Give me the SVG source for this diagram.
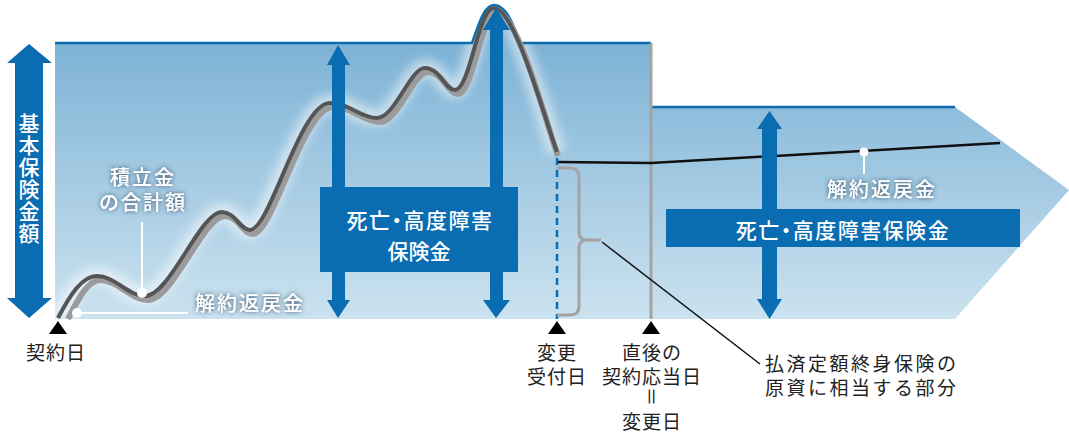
<svg xmlns="http://www.w3.org/2000/svg" width="1069" height="433" viewBox="0 0 1069 433">
<style>
.jp{font-family:"Noto Sans CJK JP","Noto Sans",sans-serif;}
.wt{fill:#fff;font-size:20px;letter-spacing:2px;font-weight:500;}
.bk{fill:#222;font-size:19px;letter-spacing:1px;}
.wide{letter-spacing:2.5px;}
.bx{fill:#fff;font-size:21px;font-weight:500;}
.palt{font-feature-settings:"palt";letter-spacing:1.5px;}
.arr{fill:#0a6cb1;}
.tri{fill:#000;}
</style>
<defs>
<linearGradient id="bg" gradientUnits="userSpaceOnUse" x1="0" y1="43" x2="0" y2="319">
<stop offset="0" stop-color="#7db2d5"/>
<stop offset="0.5" stop-color="#a5cbe3"/>
<stop offset="1" stop-color="#cbe2ef"/>
</linearGradient>
<linearGradient id="bg2" gradientUnits="userSpaceOnUse" x1="0" y1="107" x2="0" y2="319">
<stop offset="0" stop-color="#8dbcdb"/>
<stop offset="1" stop-color="#cbe2ef"/>
</linearGradient>
<filter id="glow" x="-20%" y="-40%" width="140%" height="180%">
<feGaussianBlur in="SourceAlpha" stdDeviation="2.5" result="b"/>
<feFlood flood-color="#2c4a66" flood-opacity="1"/>
<feComposite in2="b" operator="in" result="s"/>
<feMerge><feMergeNode in="s"/><feMergeNode in="SourceGraphic"/></feMerge>
</filter>
<filter id="soft" x="-10%" y="-10%" width="120%" height="120%">
<feGaussianBlur stdDeviation="5"/>
</filter>
</defs>

<g id="background">
<path d="M55,43 H472 C480,20 485,5 494,5 C505,5 512,20 520,43 H651 V319 H55 Z" fill="url(#bg)"/>
<path d="M651,107 H955 L1069,190 L955,319 H651 Z" fill="url(#bg2)"/>
<path d="M58,318 C70,295 82,276 97,276 C115,276 128,296 145,296 C170,296 200,212 222,212 C235,212 240,230 250,230 C270,230 300,103 330,103 C350,103 360,118 377,118 C395,118 410,68 425,68 C440,68 445,90 455,90 C470,90 478,8 494,8 C515,8 545,120 557,152" fill="none" stroke="#ffffff" stroke-width="18" stroke-opacity="0.5" filter="url(#soft)"/>
<path d="M55,43 H472 C480,20 485,5 494,5 C505,5 512,20 520,43 H651" fill="none" stroke="#0a6cb1" stroke-width="2.5"/>
<path d="M651,107 H955" fill="none" stroke="#0a6cb1" stroke-width="2.5"/>
</g>

<g id="connectors">
<line x1="651" y1="43" x2="651" y2="319" stroke="#a3a3a3" stroke-width="3"/>
<path d="M68,319 C78,299 88,280 100,280 C118,280 131,300 148,300 C173,300 203,216 225,216 C238,216 243,234 253,234 C273,234 303,107 333,107 C353,107 363,122 380,122 C398,122 413,72 428,72 C443,72 448,94 458,94 C473,94 481,12 497,12 C518,12 546,124 558,156" fill="none" stroke="#9b9b9b" stroke-width="6"/>
<path d="M58,318 C70,295 82,276 97,276 C115,276 128,296 145,296 C170,296 200,212 222,212 C235,212 240,230 250,230 C270,230 300,103 330,103 C350,103 360,118 377,118 C395,118 410,68 425,68 C440,68 445,90 455,90 C470,90 478,8 494,8 C515,8 545,120 557,152" fill="none" stroke="#555" stroke-width="4"/>
<line x1="557" y1="158" x2="557" y2="319" stroke="#0a6cb1" stroke-width="2.5" stroke-dasharray="7,5"/>
<polyline points="558,162 651,163 1000,143" fill="none" stroke="#111" stroke-width="2.5"/>
<path d="M557,168 H570 Q579,168 579,177 V233 Q579,240 588,240 H601 M588,240 Q579,240 579,247 V306 Q579,315 570,315 H557" fill="none" stroke="#a3a3a3" stroke-width="3"/>
<line x1="602" y1="242" x2="760" y2="364" stroke="#111" stroke-width="1.5"/>
<line x1="77" y1="313" x2="188" y2="313" stroke="#fff" stroke-width="2"/>
<circle cx="77" cy="313" r="5" fill="#fff"/>
<line x1="142" y1="222" x2="142" y2="293" stroke="#fff" stroke-width="2"/>
<circle cx="142" cy="293" r="5" fill="#fff"/>
<line x1="864" y1="152" x2="864" y2="174" stroke="#fff" stroke-width="2"/>
<circle cx="864" cy="152" r="4.5" fill="#fff"/>
</g>

<g id="axis-arrow">
<polygon class="arr" points="29,44 52,63 43,63 43,298 52,298 29,318 7,298 15,298 15,63 7,63"/>
<text class="jp bx" x="29" y="113" style="writing-mode:vertical-rl" letter-spacing="1">基本保険金額</text>
</g>

<g id="arrow-mid1"><polygon class="arr" points="338,45 350,65 345,65 345,300 350,300 338,318 327,300 332,300 332,65 327,65"/></g>
<g id="arrow-mid2"><polygon class="arr" points="496,8 510,30 503,30 503,300 510,300 496,318 483,300 490,300 490,30 483,30"/></g>
<g id="arrow-right"><polygon class="arr" points="769.5,111 782,129 777,129 777,299 782,299 769.5,319 757,299 762,299 762,129 757,129"/></g>

<g id="box-mid">
<rect x="320" y="187" width="198" height="85" fill="#0a6cb1"/>
<text class="jp bx" text-anchor="middle"><tspan class="palt" x="420" y="228">死亡・高度障害</tspan><tspan x="419" y="259">保険金</tspan></text>
</g>

<g id="box-right">
<rect x="666" y="209" width="354" height="38" fill="#0a6cb1"/>
<text class="jp bx palt" x="843" y="238" text-anchor="middle">死亡・高度障害保険金</text>
</g>

<g id="label-tsumitate" filter="url(#glow)">
<text class="jp wt" text-anchor="middle"><tspan x="143" y="185">積立金</tspan><tspan x="143" y="210">の合計額</tspan></text>
</g>
<g id="label-kaiyaku1" filter="url(#glow)">
<text class="jp wt" x="250" y="311" text-anchor="middle">解約返戻金</text>
</g>
<g id="label-kaiyaku2" filter="url(#glow)">
<text class="jp wt" x="882" y="197" text-anchor="middle">解約返戻金</text>
</g>

<g id="marker-keiyaku">
<polygon class="tri" points="49,334 67,334 58,321"/>
<text class="jp bk" x="56" y="360" text-anchor="middle">契約日</text>
</g>
<g id="marker-henkou">
<polygon class="tri" points="548,334 566,334 557,321"/>
<text class="jp bk" text-anchor="middle"><tspan x="557" y="360">変更</tspan><tspan x="557" y="384">受付日</tspan></text>
</g>
<g id="marker-outou">
<polygon class="tri" points="642,334 660,334 651,321"/>
<text class="jp bk" text-anchor="middle"><tspan x="652" y="360">直後の</tspan><tspan x="652" y="384">契約応当日</tspan></text>
<text class="jp bk" x="0" y="0" text-anchor="middle" transform="translate(652,397) rotate(90)" dominant-baseline="central" letter-spacing="0" font-size="16">＝</text>
<text class="jp bk" x="652" y="429" text-anchor="middle">変更日</text>
</g>
<g id="label-haraizumi">
<text class="jp bk wide"><tspan x="765" y="371">払済定額終身保険の</tspan><tspan x="765" y="395">原資に相当する部分</tspan></text>
</g>
</svg>
